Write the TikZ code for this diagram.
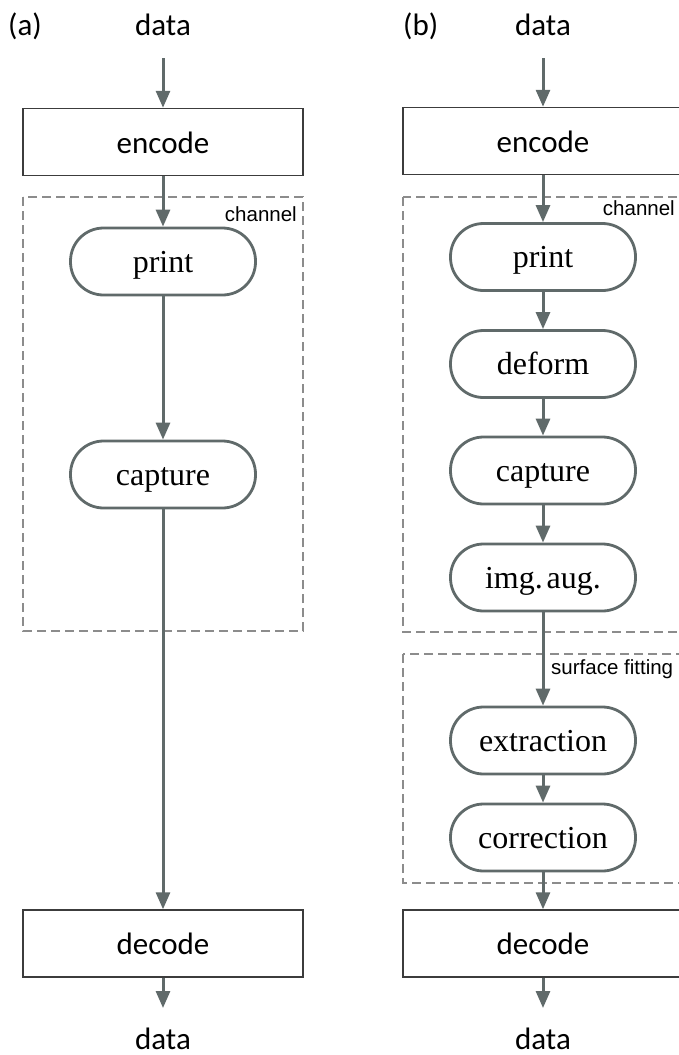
\documentclass[tikz,border=0pt]{standalone}
\usepackage{fontspec}
\setmainfont{Liberation Serif}
\newfontfamily\carl{Carlito}
\newfontfamily\arialf{Liberation Sans}
\usetikzlibrary{arrows.meta}
\definecolor{slate}{RGB}{96,106,106}
\definecolor{rectcol}{RGB}{60,60,60}
\definecolor{dashcol}{RGB}{140,140,140}
\newcommand\bigsans{\carl\fontsize{31pt}{31pt}\selectfont}
\newcommand\bigserif{\fontsize{32pt}{32pt}\selectfont}
\newcommand\smallsans{\arialf\fontsize{20.5pt}{20.5pt}\selectfont}
\tikzset{
  x=1pt, y=1pt,
  rectbox/.style={draw=rectcol, line width=1.5pt, minimum width=280pt, minimum height=67pt,
    inner sep=0pt, font=\bigsans, text height=22pt, text depth=0pt},
  pill/.style={draw=slate, line width=2.8pt, rounded corners=33pt, minimum width=185pt,
    minimum height=67pt, inner sep=0pt, font=\bigserif, text height=21pt, text depth=0pt},
  arr/.style={draw=slate, line width=3pt, -{Triangle[length=17pt,width=14pt]}},
  dashbox/.style={draw=dashcol, line width=1.3pt, dash pattern=on 9pt off 5pt},
  lbl/.style={inner sep=0pt, font=\bigsans},
  tag/.style={inner sep=0pt, font=\smallsans},
}
\begin{document}
\begin{tikzpicture}
\useasboundingbox (0,0) rectangle (678,-1055);
% dashed groups
\draw[dashbox] (23,-197) rectangle (303,-631);
\draw[dashbox] (403,-197) rectangle (700,-632);
\draw[dashbox] (403,-654) rectangle (700,-883);
\node[tag, anchor=base east] (chA) at (297,-221) {channel};
\node[tag, anchor=base east] (chB) at (675,-215) {channel};
\node[tag, anchor=base west] (sfB) at (551,-674) {surface fitting};
% panel (a)
\node[lbl, anchor=base west] (labA) at (8,-35) {(a)};
\node[lbl, anchor=base] (dinA) at (163,-35) {data};
\coordinate (sA) at (163,-58);
\node[rectbox] (encA) at (163,-142) {encode};
\node[pill] (printA) at (163,-261.5) {print};
\node[pill] (capA) at (163,-474.5) {capture};
\node[rectbox] (decA) at (163,-943.5) {decode};
\coordinate (eA) at (163,-1008);
\node[lbl, anchor=base] (doutA) at (163,-1049) {data};
\draw[arr] (sA) -- (encA);
\draw[arr] (encA) -- (printA);
\draw[arr] (printA) -- (capA);
\draw[arr] (capA) -- (decA);
\draw[arr] (decA) -- (eA);
% panel (b)
\node[lbl, anchor=base west] (labB) at (403,-35) {(b)};
\node[lbl, anchor=base] (dinB) at (543,-35) {data};
\coordinate (sB) at (543,-58);
\node[rectbox] (encB) at (543,-141) {encode};
\node[pill] (printB) at (543,-257) {print};
\node[pill] (defB) at (543,-364) {deform};
\node[pill] (capB) at (543,-470.5) {capture};
\node[pill] (augB) at (543,-577.5) {img.\hspace{0.12em}aug.};
\node[pill] (extB) at (543,-740.5) {extraction};
\node[pill] (corB) at (543,-837.5) {correction};
\node[rectbox] (decB) at (543,-943.5) {decode};
\coordinate (eB) at (543,-1008);
\node[lbl, anchor=base] (doutB) at (543,-1049) {data};
\draw[arr] (sB) -- (encB);
\draw[arr] (encB) -- (printB);
\draw[arr] (printB) -- (defB);
\draw[arr] (defB) -- (capB);
\draw[arr] (capB) -- (augB);
\draw[arr] (augB) -- (extB);
\draw[arr] (extB) -- (corB);
\draw[arr] (corB) -- (decB);
\draw[arr] (decB) -- (eB);
\end{tikzpicture}
\end{document}
